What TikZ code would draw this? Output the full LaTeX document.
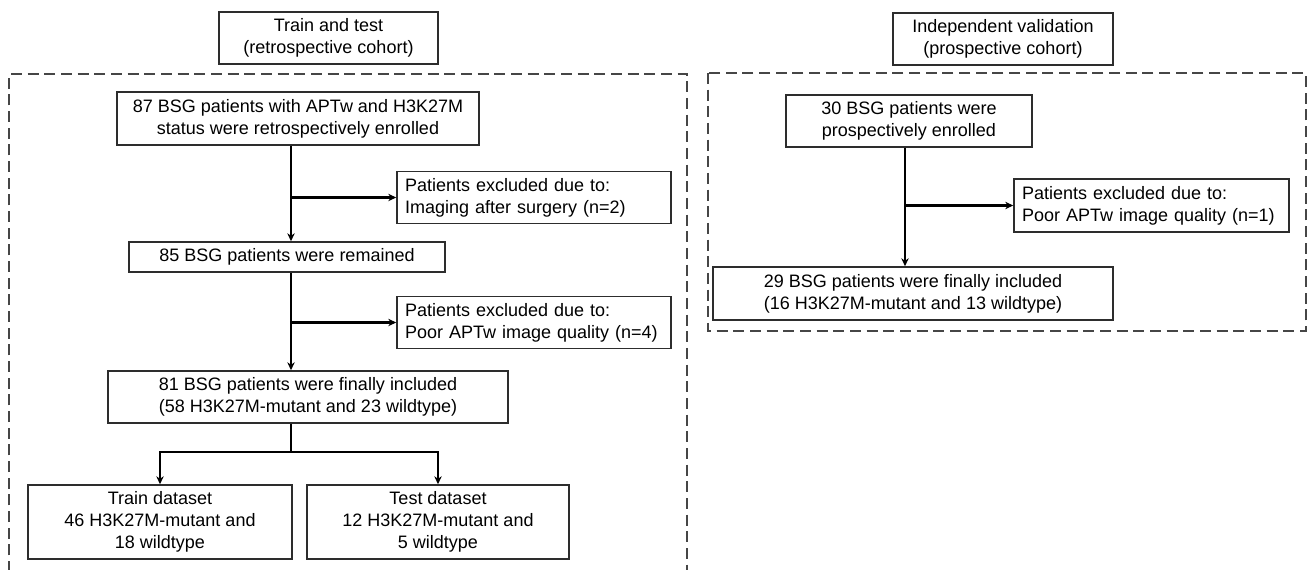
\documentclass[tikz,border=0pt]{standalone}
\usepackage{fontspec}
\setmainfont{Liberation Sans}
\usepackage{xcolor}
\usepackage{tikz}
\usetikzlibrary{arrows.meta}
\definecolor{edge}{RGB}{45,45,45}
\definecolor{rim}{RGB}{70,70,70}

\begin{document}
\begin{tikzpicture}[x=0.75pt,y=-0.75pt,font=\fontsize{13.5}{16.3}\selectfont,
  box/.style={draw=edge, line width=1.1pt, align=center, inner sep=0pt},
  excl/.style={box, align=left, inner xsep=6pt, text width=193.5pt, minimum height=39pt},
  link/.style={line width=1.8pt, -{Stealth[length=6pt,width=5.5pt]}},
  rimline/.style={draw=rim, line width=1.4pt, dash pattern=on 8.25pt off 4.25pt}]
\useasboundingbox (0,0) rectangle (1307,570);

\node[box, minimum width=164.25pt, minimum height=39pt] (ttl) at (328.5,38) {Train and test\\(retrospective cohort)};
\node[box, minimum width=165pt, minimum height=39pt] (ttr) at (1003,39) {Independent validation\\(prospective cohort)};
\draw[rimline] (9,572) -- (9,74) -- (687,74) -- (687,572);
\draw[rimline] (708,73) rectangle (1306,331);

\node[box, minimum width=271.5pt, minimum height=39.75pt] (enrol) at (298,118.5) {87 BSG patients with APTw and H3K27M\\status were retrospectively enrolled};
\node[excl] (exA) at (534,197.5) {Patients excluded due to:\\Imaging after surgery (n=2)};
\node[box, minimum width=237pt, minimum height=22.5pt] (remain) at (287,257) {85 BSG patients were remained};
\node[excl] (exB) at (534,322.5) {Patients excluded due to:\\Poor APTw image quality (n=4)};
\node[box, minimum width=300pt, minimum height=39pt] (final) at (308,397) {81 BSG patients were finally included\\(58 H3K27M-mutant and 23 wildtype)};
\node[box, minimum width=198pt, minimum height=55.5pt] (train) at (160,522) {Train dataset\\46 H3K27M-mutant and\\18 wildtype};
\node[box, minimum width=196.5pt, minimum height=55.5pt] (test) at (438,522) {Test dataset\\12 H3K27M-mutant and\\5 wildtype};

\node[box, minimum width=184.5pt, minimum height=39pt] (pros) at (909,121) {30 BSG patients were\\prospectively enrolled};
\node[excl, text width=194.25pt, minimum height=39.75pt] (exP) at (1151.5,205.5) {Patients excluded due to:\\Poor APTw image quality (n=1)};
\node[box, minimum width=300pt, minimum height=39.75pt] (finP) at (913,293.5) {29 BSG patients were finally included\\(16 H3K27M-mutant and 13 wildtype)};

\coordinate (sl) at (291,0);
\coordinate (split) at (291,452);
\draw[link] (sl |- enrol.south) -- (sl |- remain.north);
\draw[link] (sl |- exA.west) -- (exA.west);
\draw[link] (sl |- remain.south) -- (sl |- final.north);
\draw[link] (sl |- exB.west) -- (exB.west);
\draw[line width=1.8pt] (sl |- final.south) -- (split);
\foreach \d in {train,test}{\draw[link] (split) -| (\d.north);}

\coordinate (sr) at (905,0);
\draw[link] (sr |- pros.south) -- (sr |- finP.north);
\draw[link] (sr |- exP.west) -- (exP.west);
\end{tikzpicture}
\end{document}
